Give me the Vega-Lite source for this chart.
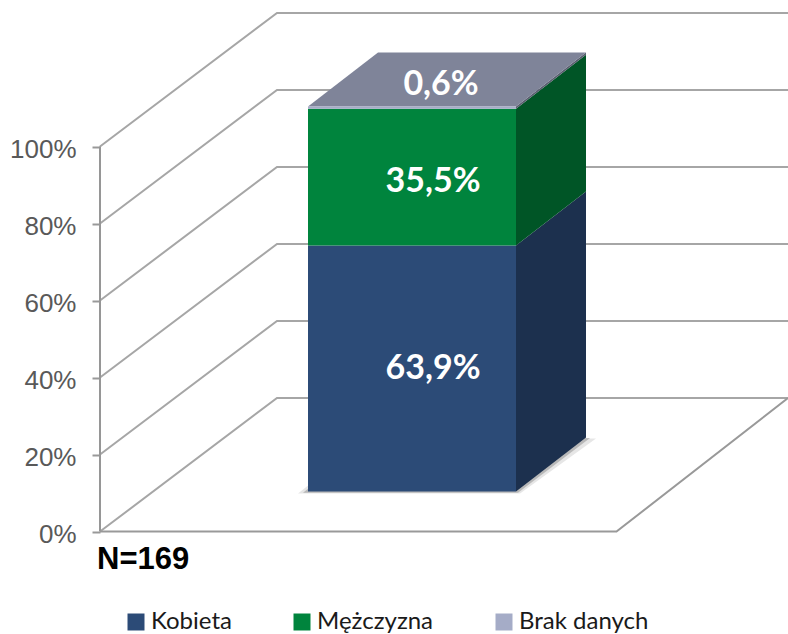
{
"$schema":"https://vega.github.io/schema/vega-lite/v6.json",
"width":688,"height":634,"autosize":"none",
"padding":{"left":100,"top":0,"right":0,"bottom":0},
"background":"white",
"config":{"view":{"stroke":null}},
"datasets":{
"udzialy":[{"plec":"Kobieta","udzial":63.9,"etykieta":"63,9%"},{"plec":"Mężczyzna","udzial":35.5,"etykieta":"35,5%"},{"plec":"Brak danych","udzial":0.6,"etykieta":"0,6%"}],
"podzialka":[{"tick":0},{"tick":20},{"tick":40},{"tick":60},{"tick":80},{"tick":100}],
"glebia":[{"d":0},{"d":1}],
"proba":[{"n":"N=169"}]
},
"encoding":{
"x":{"field":"x","type":"quantitative","axis":null,"scale":{"domain":[0,688],"nice":false,"zero":false}},
"y":{"field":"y","type":"quantitative","stack":null,"scale":{"domain":[-26.6,138.05],"nice":false,"zero":false},
"axis":{"title":null,"domain":false,"grid":false,"values":[0,20,40,60,80,100],"labelExpr":"datum.value+'%'","tickSize":8,"tickWidth":2,"tickColor":"#999999","labelPadding":16,"labelFont":"Liberation Sans","labelFontSize":26,"labelColor":"#595959","labelOffset":3}}
},
"layer":[
{"data":{"name":"podzialka"},
"transform":[{"calculate":"[0,1,2]","as":"p"},{"flatten":["p"]},{"calculate":"[0,177,688][datum.p]","as":"x"},{"calculate":"datum.tick+(datum.p>0?34.7:0)","as":"y"}],
"mark":{"type":"line","color":"#a6a6a6","strokeWidth":2},
"encoding":{"detail":{"field":"tick"}}},
{"data":{"name":"podzialka"},
"transform":[{"calculate":"0","as":"x"},{"calculate":"datum.tick","as":"y"}],
"mark":{"type":"line","color":"#969696","strokeWidth":2}},
{"data":{"name":"podzialka"},
"transform":[{"filter":"datum.tick==0"},{"calculate":"[0,1,2]","as":"p"},{"flatten":["p"]},{"calculate":"[0,516.5,688][datum.p]","as":"x"},{"calculate":"[0,0,34.7][datum.p]","as":"y"}],
"mark":{"type":"line","color":"#999999","strokeWidth":2}},
{"data":{"name":"glebia"},
"transform":[{"calculate":"198+70*datum.d","as":"x"},{"calculate":"420+76*datum.d","as":"x2"},{"calculate":"9.9+14.3*datum.d","as":"y"}],
"mark":{"type":"area","orient":"horizontal","color":"#808080","opacity":0.2},
"encoding":{"x2":{"field":"x2"}}},
{"data":{"name":"glebia"},
"transform":[{"calculate":"203+70*datum.d","as":"x"},{"calculate":"418+72*datum.d","as":"x2"},{"calculate":"10.1+14.2*datum.d","as":"y"}],
"mark":{"type":"area","orient":"horizontal","color":"#808080","opacity":0.45},
"encoding":{"x2":{"field":"x2"}}},
{"data":{"name":"udzialy"},
"transform":[{"stack":"udzial","groupby":[],"as":["s0","s1"]},{"calculate":"[0,1]","as":"d"},{"flatten":["d"]},{"calculate":"416+70*datum.d","as":"x"},{"calculate":"datum.s0+10.39+14.03*datum.d","as":"y"},{"calculate":"datum.s1+10.39+14.03*datum.d","as":"y2"}],
"mark":{"type":"area"},
"encoding":{"y2":{"field":"y2"},"color":{"field":"plec","type":"nominal","legend":null,"scale":{"domain":["Kobieta","Mężczyzna","Brak danych"],"range":["#1c304e","#005526","#5a5f70"]}}}},
{"data":{"name":"udzialy"},
"transform":[{"stack":"udzial","groupby":[],"as":["s0","s1"]},{"filter":"datum.plec=='Brak danych'"},{"calculate":"[0,1]","as":"d"},{"flatten":["d"]},{"calculate":"208+70*datum.d","as":"x"},{"calculate":"416+70*datum.d","as":"x2"},{"calculate":"datum.s1+10.39+14.03*datum.d","as":"y"}],
"mark":{"type":"area","orient":"horizontal","color":"#7f8499"},
"encoding":{"x2":{"field":"x2"}}},
{"data":{"name":"udzialy"},
"transform":[{"stack":"udzial","groupby":[],"as":["s0","s1"]},{"calculate":"208","as":"x"},{"calculate":"416","as":"x2"},{"calculate":"datum.s0+10.39","as":"y"},{"calculate":"datum.s1+10.39","as":"y2"}],
"mark":{"type":"rect"},
"encoding":{"x2":{"field":"x2"},"y2":{"field":"y2"},
"color":{"field":"plec","type":"nominal","scale":{"domain":["Kobieta","Mężczyzna","Brak danych"],"range":["#2c4b77","#00843d","#a5acc7"]},
"legend":{"orient":"none","legendX":24,"legendY":610,"direction":"horizontal","columns":3,"title":null,"symbolType":"square","symbolSize":289,"symbolStrokeWidth":0,"labelFont":"Lato","labelFontSize":24,"labelColor":"#1a1a1a","columnPadding":58,"labelOffset":3,"symbolOffset":0,"padding":0}}}},
{"data":{"name":"udzialy"},
"transform":[{"stack":"udzial","groupby":[],"as":["s0","s1"]},{"calculate":"datum.plec=='Brak danych'?341:333","as":"x"},{"calculate":"datum.plec=='Brak danych'?115.9:(datum.plec=='Mężczyzna'?(datum.s0+datum.s1)/2+9.1:(datum.s0+datum.s1)/2+10.39)","as":"y"}],
"mark":{"type":"text","color":"white","font":"Lato","fontWeight":"bold","fontSize":34,"align":"center","baseline":"middle"},
"encoding":{"text":{"field":"etykieta"}}},
{"data":{"name":"proba"},
"transform":[{"calculate":"-3","as":"x"},{"calculate":"-9.8","as":"y"}],
"mark":{"type":"text","color":"black","font":"Liberation Sans","fontWeight":"bold","fontSize":31,"align":"left","baseline":"alphabetic"},
"encoding":{"text":{"field":"n"}}}
],
"resolve":{"scale":{"color":"independent"}}
}
